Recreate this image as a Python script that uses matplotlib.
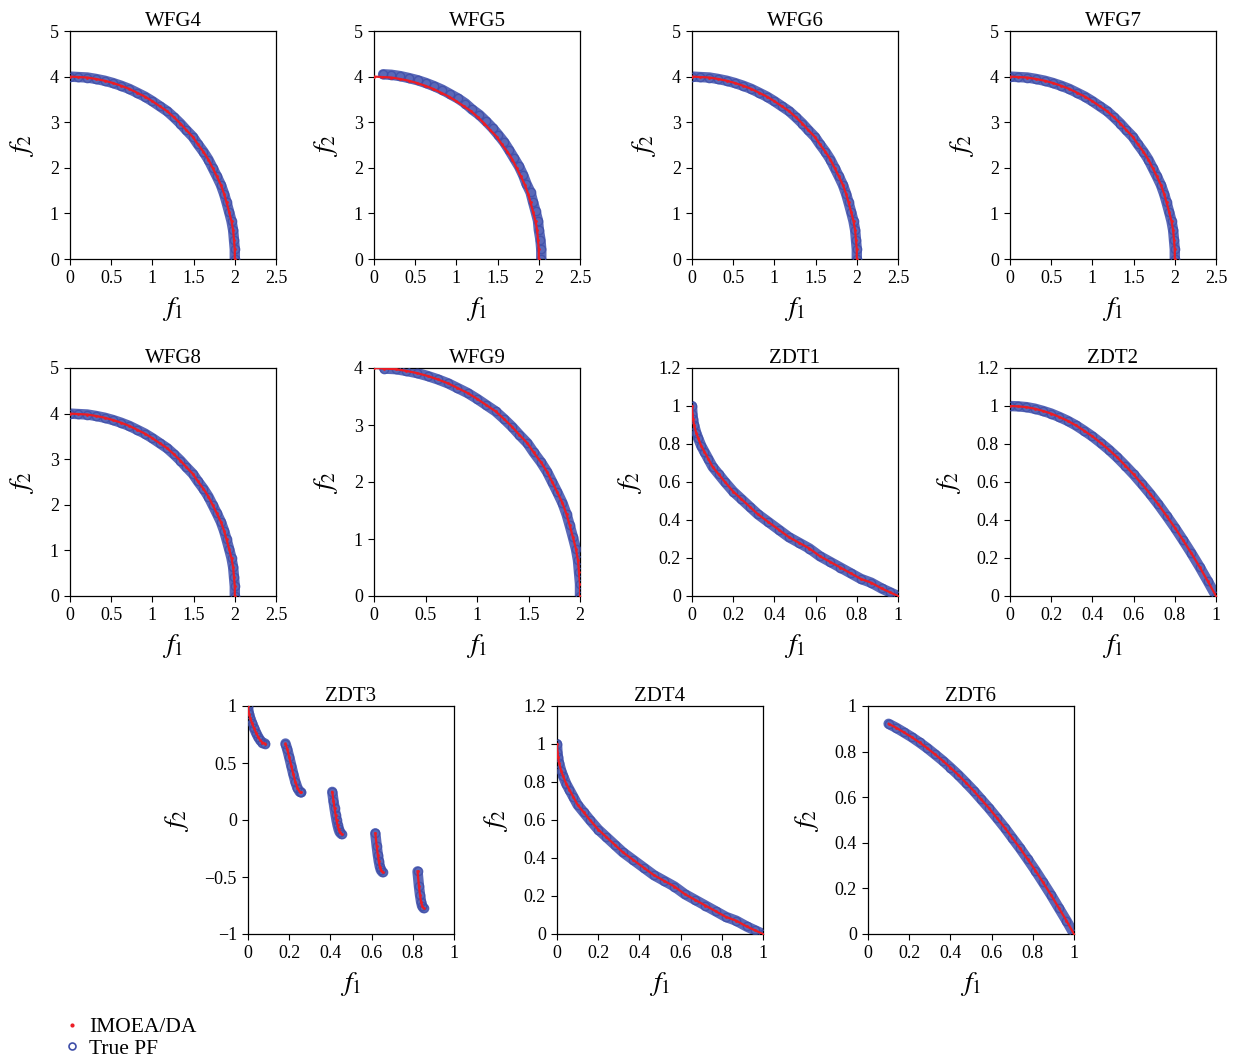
import matplotlib
matplotlib.use('Agg')
import matplotlib.pyplot as plt
from matplotlib.lines import Line2D
import numpy as np

# WFG quarter-ellipse front
wfg_f1 = [0.00, 0.10, 0.21, 0.31, 0.42, 0.52, 0.62, 0.72, 0.81, 0.91, 1.00, 1.09, 1.18, 1.26, 1.34, 1.41,
          1.49, 1.55, 1.62, 1.68, 1.73, 1.78, 1.83, 1.87, 1.90, 1.93, 1.96, 1.98, 1.99, 2.00, 2.00]
wfg_f2 = [4.00, 3.99, 3.98, 3.95, 3.91, 3.86, 3.80, 3.73, 3.65, 3.56, 3.46, 3.35, 3.24, 3.11, 2.97, 2.83,
          2.68, 2.52, 2.35, 2.18, 2.00, 1.82, 1.63, 1.43, 1.24, 1.04, 0.83, 0.63, 0.42, 0.21, 0.00]

# WFG5 true PF lies slightly outside the obtained front
wfg5_pf_f1 = [0.11, 0.21, 0.32, 0.42, 0.53, 0.63, 0.73, 0.83, 0.92, 1.02, 1.11, 1.19, 1.28, 1.36, 1.44,
              1.51, 1.58, 1.64, 1.70, 1.76, 1.81, 1.85, 1.90, 1.93, 1.96, 1.99, 2.00, 2.02, 2.03, 2.03]
wfg5_pf_f2 = [4.05, 4.04, 4.01, 3.97, 3.92, 3.86, 3.79, 3.71, 3.62, 3.52, 3.41, 3.28, 3.16, 3.02, 2.87,
              2.72, 2.56, 2.39, 2.21, 2.03, 1.84, 1.65, 1.46, 1.25, 1.05, 0.84, 0.64, 0.42, 0.21, 0.00]

# ZDT1 / ZDT4 convex front
zdt1_f1 = [0.000, 0.002, 0.005, 0.01, 0.02, 0.03, 0.045, 0.06, 0.08, 0.10, 0.13, 0.16, 0.20, 0.24, 0.28,
           0.32, 0.37, 0.42, 0.47, 0.52, 0.57, 0.62, 0.67, 0.72, 0.77, 0.82, 0.87, 0.92, 0.96, 1.00]
zdt1_f2 = [1.00, 0.96, 0.93, 0.90, 0.86, 0.83, 0.79, 0.76, 0.72, 0.68, 0.64, 0.60, 0.55, 0.51, 0.47,
           0.43, 0.39, 0.35, 0.31, 0.28, 0.25, 0.21, 0.18, 0.15, 0.12, 0.09, 0.07, 0.04, 0.02, 0.00]

# ZDT2 concave front
zdt2_f1 = [0.00, 0.04, 0.08, 0.12, 0.16, 0.20, 0.24, 0.28, 0.32, 0.36, 0.40, 0.44, 0.48,
           0.52, 0.56, 0.60, 0.64, 0.68, 0.72, 0.76, 0.80, 0.84, 0.88, 0.92, 0.96, 1.00]
zdt2_f2 = [1.000, 0.998, 0.994, 0.986, 0.974, 0.960, 0.942, 0.922, 0.898, 0.870, 0.840, 0.806, 0.770,
           0.730, 0.686, 0.640, 0.590, 0.538, 0.482, 0.422, 0.360, 0.294, 0.226, 0.154, 0.078, 0.000]

# ZDT3 disconnected front (nan separates the pieces)
zdt3_f1 = [0.000, 0.002, 0.005, 0.01, 0.02, 0.03, 0.04, 0.05, 0.06, 0.07, 0.083, np.nan,
           0.182, 0.19, 0.20, 0.21, 0.22, 0.23, 0.24, 0.25, 0.258, np.nan,
           0.409, 0.415, 0.42, 0.425, 0.43, 0.435, 0.44, 0.445, 0.454, np.nan,
           0.618, 0.625, 0.63, 0.635, 0.64, 0.645, 0.653, np.nan,
           0.823, 0.83, 0.835, 0.84, 0.845, 0.852]
zdt3_f2 = [1.000, 0.955, 0.928, 0.897, 0.847, 0.803, 0.762, 0.726, 0.698, 0.679, 0.670, np.nan,
           0.671, 0.623, 0.553, 0.477, 0.402, 0.334, 0.282, 0.250, 0.242, np.nan,
           0.247, 0.167, 0.105, 0.048, -0.004, -0.047, -0.082, -0.107, -0.124, np.nan,
           -0.117, -0.232, -0.303, -0.363, -0.409, -0.440, -0.458, np.nan,
           -0.451, -0.583, -0.658, -0.716, -0.754, -0.773]

# ZDT6 front
zdt6_f1 = [0.100, 0.138, 0.175, 0.213, 0.250, 0.288, 0.325, 0.363, 0.400, 0.438, 0.475, 0.513, 0.550,
           0.588, 0.625, 0.663, 0.700, 0.738, 0.775, 0.813, 0.850, 0.888, 0.925, 0.963, 1.000]
zdt6_f2 = [0.922, 0.904, 0.884, 0.863, 0.840, 0.815, 0.788, 0.760, 0.730, 0.698, 0.664, 0.628, 0.590,
           0.551, 0.510, 0.467, 0.422, 0.376, 0.328, 0.278, 0.226, 0.172, 0.116, 0.059, 0.000]

plt.rcParams['font.family'] = ['Liberation Serif', 'DejaVu Serif']
plt.rcParams['mathtext.fontset'] = 'stix'
plt.rcParams['font.size'] = 13

BLUE = '#3e4ea8'
BAND = '#5a69b8'
RED = '#ec1c24'

# name, true PF, IMOEA/DA, xmax, ylim, xticks, yticks, axes position (px: left, top)
panels = [
    ('WFG4', (wfg_f1, wfg_f2), (wfg_f1, wfg_f2), 2.5, (0, 5), [0, 0.5, 1, 1.5, 2, 2.5], [0, 1, 2, 3, 4, 5], (70, 31)),
    ('WFG5', (wfg5_pf_f1, wfg5_pf_f2), (wfg_f1, wfg_f2), 2.5, (0, 5), [0, 0.5, 1, 1.5, 2, 2.5], [0, 1, 2, 3, 4, 5], (374, 31)),
    ('WFG6', (wfg_f1, wfg_f2), (wfg_f1, wfg_f2), 2.5, (0, 5), [0, 0.5, 1, 1.5, 2, 2.5], [0, 1, 2, 3, 4, 5], (692, 31)),
    ('WFG7', (wfg_f1, wfg_f2), (wfg_f1, wfg_f2), 2.5, (0, 5), [0, 0.5, 1, 1.5, 2, 2.5], [0, 1, 2, 3, 4, 5], (1010, 31)),
    ('WFG8', (wfg_f1, wfg_f2), (wfg_f1, wfg_f2), 2.5, (0, 5), [0, 0.5, 1, 1.5, 2, 2.5], [0, 1, 2, 3, 4, 5], (70, 368)),
    ('WFG9', (wfg_f1[1:], wfg_f2[1:]), (wfg_f1, wfg_f2), 2.0, (0, 4), [0, 0.5, 1, 1.5, 2], [0, 1, 2, 3, 4], (374, 368)),
    ('ZDT1', (zdt1_f1, zdt1_f2), (zdt1_f1, zdt1_f2), 1.0, (0, 1.2), [0, 0.2, 0.4, 0.6, 0.8, 1], [0, 0.2, 0.4, 0.6, 0.8, 1, 1.2], (692, 368)),
    ('ZDT2', (zdt2_f1, zdt2_f2), (zdt2_f1, zdt2_f2), 1.0, (0, 1.2), [0, 0.2, 0.4, 0.6, 0.8, 1], [0, 0.2, 0.4, 0.6, 0.8, 1, 1.2], (1010, 368)),
    ('ZDT3', (zdt3_f1, zdt3_f2), (zdt3_f1, zdt3_f2), 1.0, (-1, 1), [0, 0.2, 0.4, 0.6, 0.8, 1], [-1, -0.5, 0, 0.5, 1], (248, 706)),
    ('ZDT4', (zdt1_f1, zdt1_f2), (zdt1_f1, zdt1_f2), 1.0, (0, 1.2), [0, 0.2, 0.4, 0.6, 0.8, 1], [0, 0.2, 0.4, 0.6, 0.8, 1, 1.2], (557, 706)),
    ('ZDT6', (zdt6_f1, zdt6_f2), (zdt6_f1, zdt6_f2), 1.0, (0, 1), [0, 0.2, 0.4, 0.6, 0.8, 1], [0, 0.2, 0.4, 0.6, 0.8, 1], (868, 706)),
]

W, H = 1238, 1062
fig = plt.figure(figsize=(W / 100, H / 100), dpi=100)


def fmt(v):
    if v == 0:
        return '0'
    return ('%g' % v).replace('-', '\u2212')


for name, pf, ea, xmax, ylim, xt, yt, (lx, ty) in panels:
    ax = fig.add_axes([lx / W, 1 - (ty + 228) / H, 206 / W, 228 / H])
    ax.plot(pf[0], pf[1], '-', color=BAND, lw=7.5, solid_capstyle='round', zorder=2)
    ax.plot(pf[0], pf[1], 'o', ms=6, mfc='none', mec=BLUE, mew=1.0, alpha=0.8, zorder=3)
    ax.plot(ea[0], ea[1], '-', color=RED, lw=1.6, zorder=4)
    ax.plot(ea[0], ea[1], '.', color=RED, ms=2, zorder=5)
    ax.set_xlim(0, xmax)
    ax.set_ylim(*ylim)
    ax.set_xticks(xt)
    ax.set_xticklabels([fmt(v) for v in xt])
    ax.set_yticks(yt)
    ax.set_yticklabels([fmt(v) for v in yt])
    ax.tick_params(direction='out', length=4, width=0.8, pad=4)
    for sp in ax.spines.values():
        sp.set_linewidth(0.9)
    ax.set_title(name, fontsize=15, pad=3)
    ax.set_xlabel(r'$f_1$', fontsize=20, labelpad=6)
    ax.set_ylabel(r'$f_2$', fontsize=20, labelpad=10)

handles = [
    Line2D([], [], ls='none', marker='.', ms=4, color=RED),
    Line2D([], [], ls='none', marker='o', ms=5, mfc='none', mec=BLUE, mew=1.2),
]
fig.legend(handles, ['IMOEA/DA', 'True PF'], loc='center left', bbox_to_anchor=(50 / W, 1 - 1038 / H),
           frameon=False, fontsize=15.5, handlelength=1, handletextpad=0.3, labelspacing=0.05, borderpad=0)

fig.savefig('out.png', dpi=100)
